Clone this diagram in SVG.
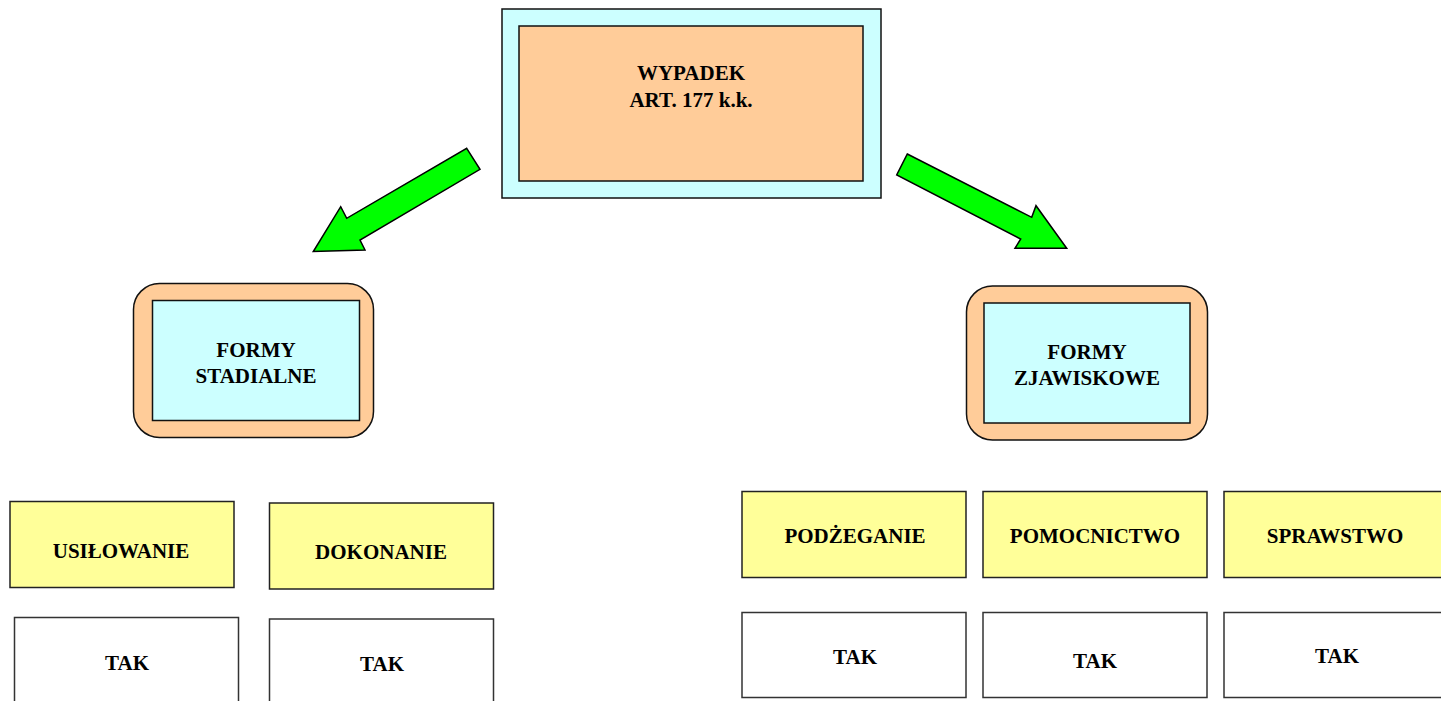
<svg xmlns="http://www.w3.org/2000/svg" width="1441" height="701" viewBox="0 0 1441 701">
<style>
.t{font-family:"Liberation Serif","Times New Roman",serif;font-weight:bold;font-size:21px;fill:#000;text-anchor:middle}
.cyan{fill:#CCFFFF;stroke:#111;stroke-width:1.5}
.peach{fill:#FFCC99;stroke:#111;stroke-width:1.5}
.yel{fill:#FFFF99;stroke:#222;stroke-width:1.5}
.wht{fill:#FFFFFF;stroke:#333;stroke-width:1.5}
.arr{fill:#00FF00;stroke:#000;stroke-width:1.5;stroke-linejoin:miter}
</style>
<rect width="1441" height="701" fill="#fff"/>
<g id="connectors">
<polygon class="arr" points="466.7,148.3 480,169.3 360,240 365,250 313.3,251.5 340.7,206.7 346.7,218.3"/>
<polygon class="arr" points="907.3,154 1031.7,217.3 1036,205.7 1066.7,248.3 1015,248.3 1020.7,239 896.7,175"/>
</g>
<g id="wypadek">
<rect class="cyan" x="502" y="9" width="379" height="189"/>
<rect class="peach" x="519" y="26" width="344" height="155"/>
<text class="t" x="691" y="80">WYPADEK</text>
<text class="t" x="691" y="107">ART. 177 k.k.</text>
</g>
<g id="formy-stadialne">
<rect class="peach" x="133.5" y="283.5" width="240" height="154" rx="26" ry="26"/>
<rect class="cyan" x="152.5" y="300.5" width="207" height="120"/>
<text class="t" x="256" y="357">FORMY</text>
<text class="t" x="256" y="383">STADIALNE</text>
</g>
<g id="formy-zjawiskowe">
<rect class="peach" x="966.5" y="286" width="241" height="154" rx="26" ry="26"/>
<rect class="cyan" x="984" y="303" width="206" height="120"/>
<text class="t" x="1087" y="359">FORMY</text>
<text class="t" x="1087" y="385">ZJAWISKOWE</text>
</g>
<g id="usilowanie">
<rect class="yel" x="10" y="501.5" width="224" height="86"/>
<text class="t" x="121" y="558">USIŁOWANIE</text>
</g>
<g id="dokonanie">
<rect class="yel" x="269.5" y="503" width="224" height="86"/>
<text class="t" x="381" y="559">DOKONANIE</text>
</g>
<g id="tak-usilowanie">
<rect class="wht" x="14.5" y="617.5" width="224" height="90"/>
<text class="t" x="127" y="670">TAK</text>
</g>
<g id="tak-dokonanie">
<rect class="wht" x="269.5" y="619" width="224" height="90"/>
<text class="t" x="382" y="671">TAK</text>
</g>
<g id="podzeganie">
<rect class="yel" x="742" y="491.5" width="224" height="86"/>
<text class="t" x="855" y="543">PODŻEGANIE</text>
</g>
<g id="pomocnictwo">
<rect class="yel" x="983" y="491.5" width="224" height="86"/>
<text class="t" x="1095" y="543">POMOCNICTWO</text>
</g>
<g id="sprawstwo">
<rect class="yel" x="1224" y="491.5" width="224" height="86"/>
<text class="t" x="1335" y="543">SPRAWSTWO</text>
</g>
<g id="tak-podzeganie">
<rect class="wht" x="742" y="612.5" width="224" height="85"/>
<text class="t" x="855" y="664">TAK</text>
</g>
<g id="tak-pomocnictwo">
<rect class="wht" x="983" y="612.5" width="224" height="85"/>
<text class="t" x="1095" y="668">TAK</text>
</g>
<g id="tak-sprawstwo">
<rect class="wht" x="1224" y="612.5" width="224" height="85"/>
<text class="t" x="1337" y="663">TAK</text>
</g>
</svg>
